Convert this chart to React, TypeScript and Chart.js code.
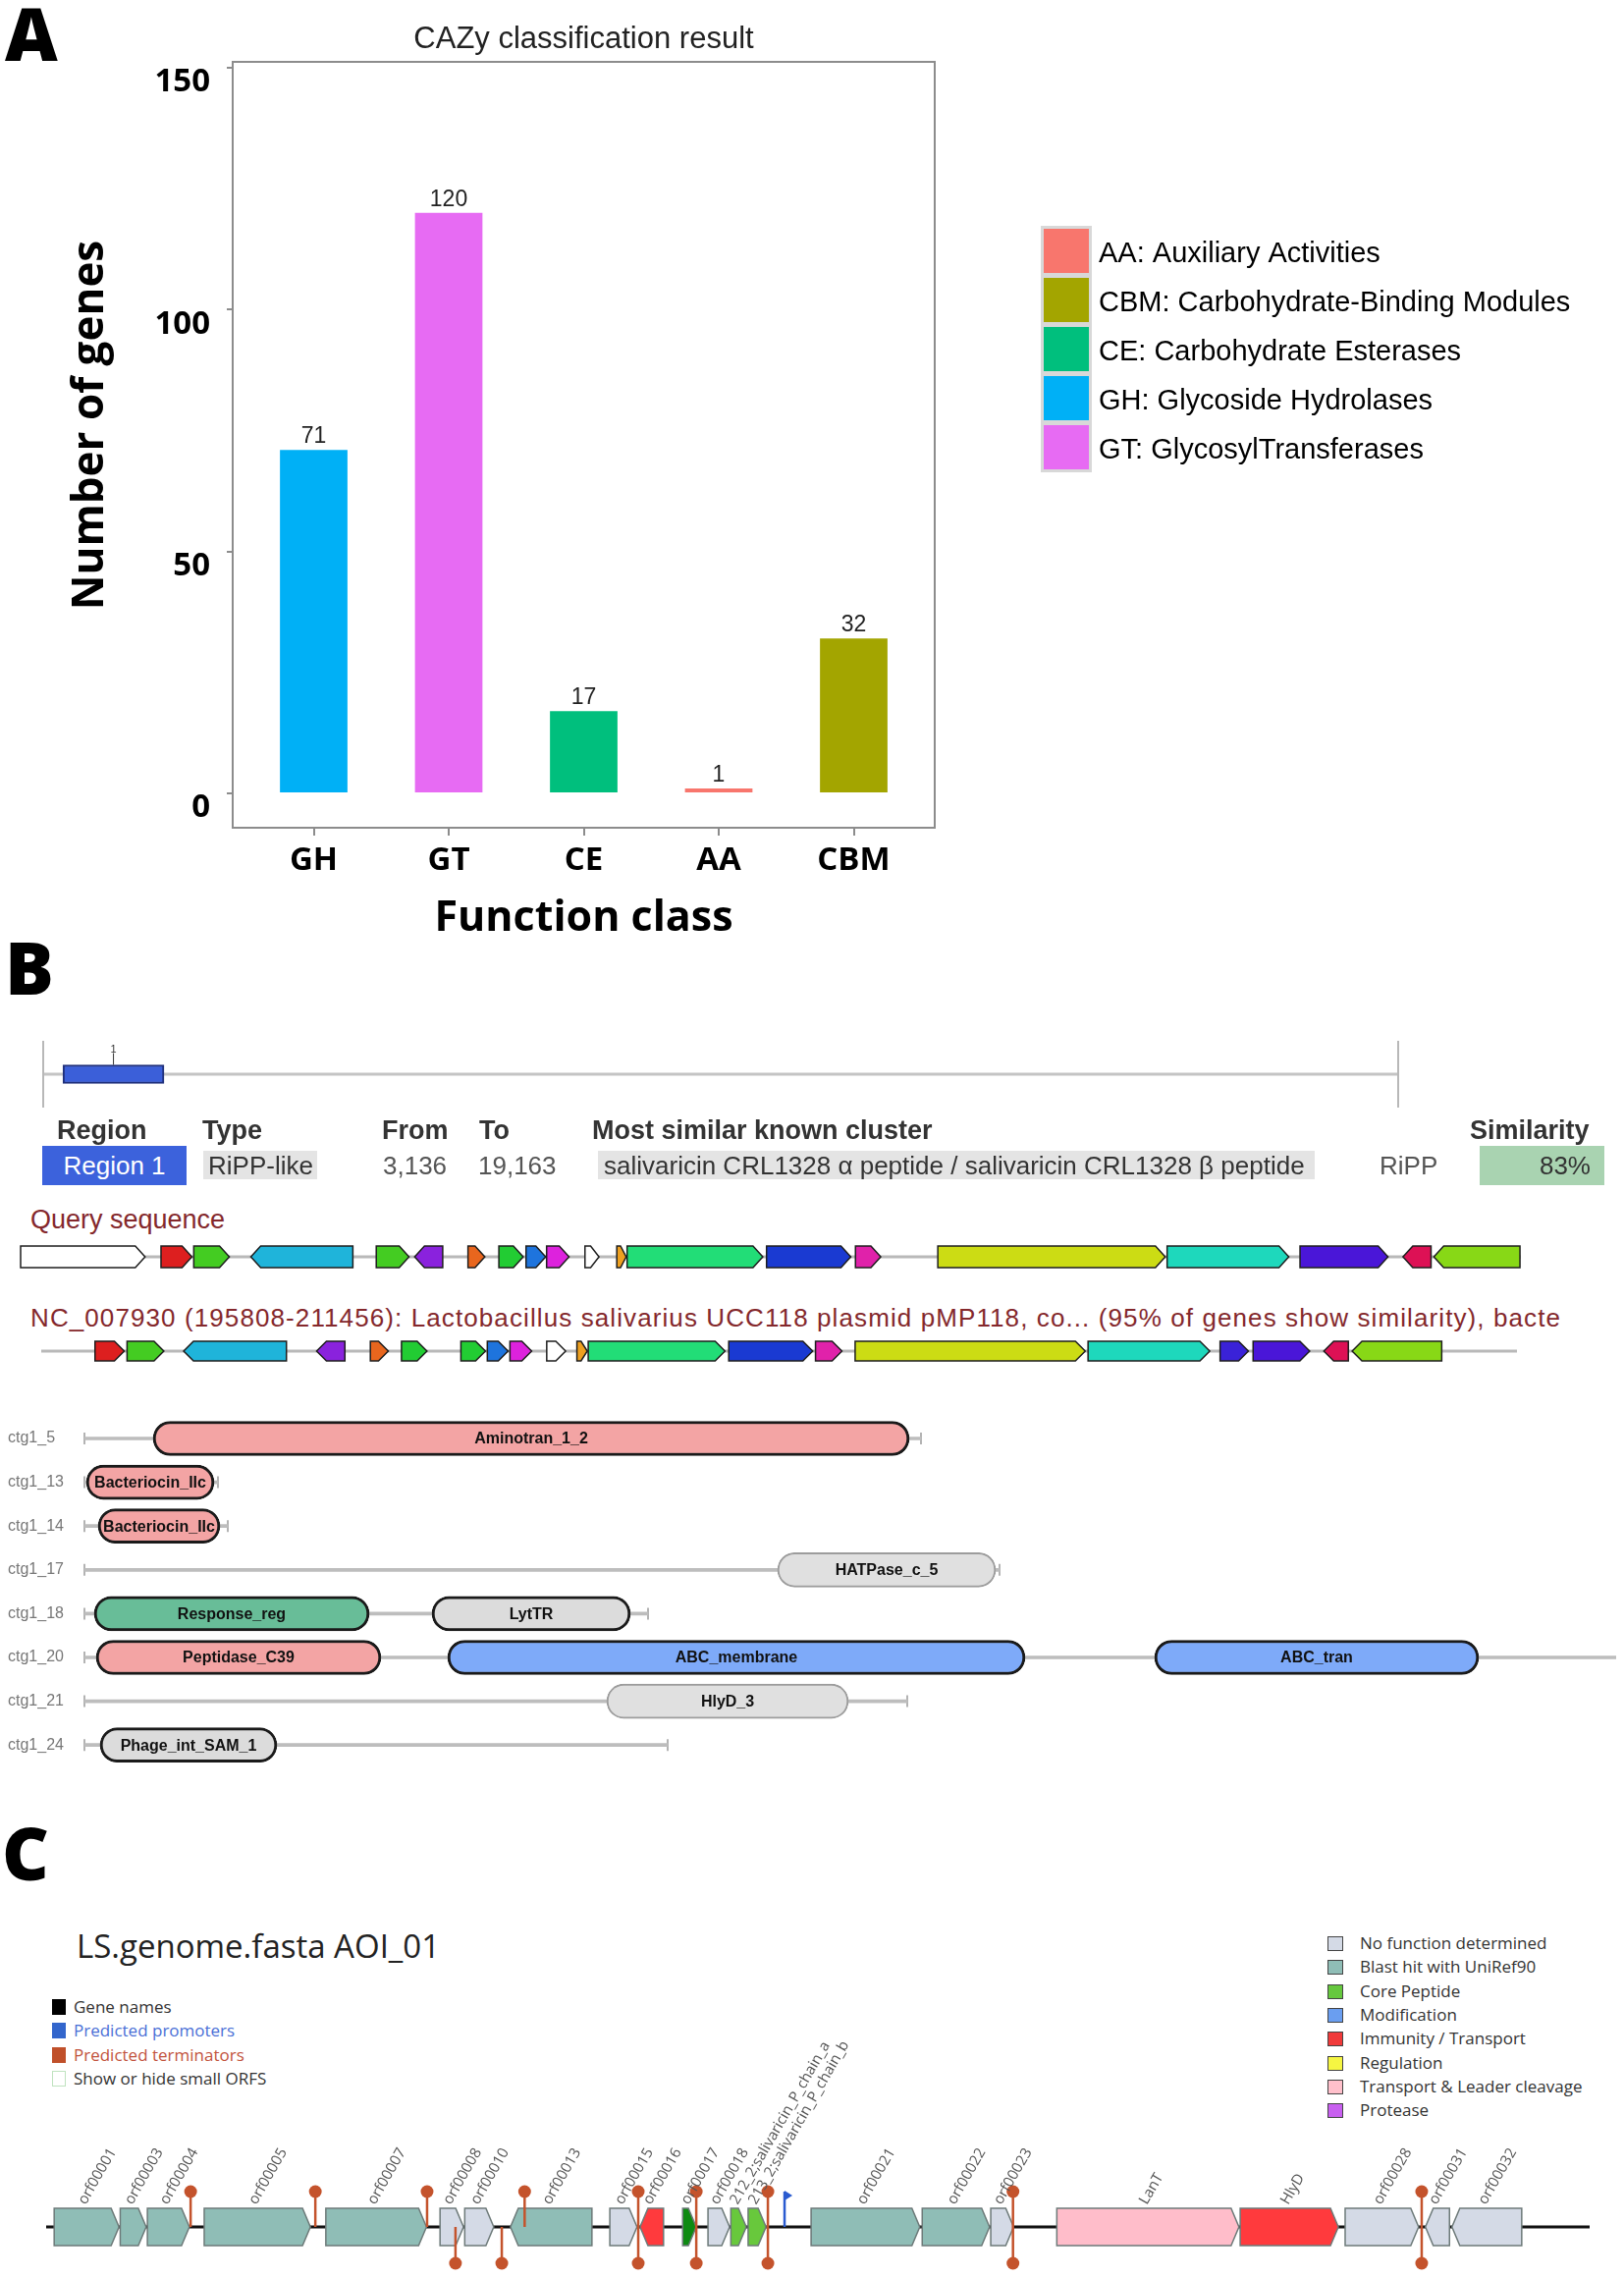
import React, { useEffect, useRef } from 'react';
import { Chart, registerables } from 'chart.js';

Chart.register(...registerables);

const LS = "'Liberation Sans', Arial, Helvetica, sans-serif";
const OS = "'Open Sans', 'Liberation Sans', sans-serif";

// ---------------- Panel A data ----------------
const A_TITLE = 'CAZy classification result';
const A_CATEGORIES = ['GH', 'GT', 'CE', 'AA', 'CBM'];
const A_COUNTS = [71, 120, 17, 1, 32];
const A_COLORS = ['#00B0F6', '#E76BF3', '#00BF7D', '#F8766D', '#A3A500'];
const A_Y_TICKS = [0, 50, 100, 150];
const A_LEGEND_COLORS = ['#F8766D', '#A3A500', '#00BF7D', '#00B0F6', '#E76BF3'];
const A_LEGEND_LABELS = [
  'AA: Auxiliary Activities',
  'CBM: Carbohydrate-Binding Modules',
  'CE: Carbohydrate Esterases',
  'GH: Glycoside Hydrolases',
  'GT: GlycosylTransferases',
];
const A_X_TITLE = 'Function class';
const A_Y_TITLE = 'Number of genes';

// ---------------- Panel B data ----------------
const CONTIG_LENGTH = 215000;
const REGION_FROM = 3136;
const REGION_TO = 19163;
const B_HEADERS = ['Region', 'Type', 'From', 'To', 'Most similar known cluster', 'Similarity'];
const B_ROW = ['Region 1', 'RiPP-like', '3,136', '19,163', 'salivaricin CRL1328 \u03b1 peptide / salivaricin CRL1328 \u03b2 peptide', 'RiPP', '83%'];
const QUERY_TITLE = 'Query sequence';
const REF_TITLE = 'NC_007930 (195808-211456): Lactobacillus salivarius UCC118 plasmid pMP118, co... (95% of genes show similarity), bacte';

type Gene = [number, number, number, string]; // start kb, end kb, strand, colour
const QUERY_LENGTH_KB = 16.03;
const QUERY_GENES: Gene[] = [
  [0.0, 1.33, 1, '#ffffff'],
  [1.5, 1.83, 1, '#dd1f1f'],
  [1.85, 2.23, 1, '#44cc22'],
  [2.46, 3.55, -1, '#1fb4da'],
  [3.8, 4.15, 1, '#44cc22'],
  [4.21, 4.51, -1, '#8a22dd'],
  [4.78, 4.96, 1, '#e8661e'],
  [5.11, 5.37, 1, '#22cc33'],
  [5.4, 5.61, 1, '#1e74dd'],
  [5.62, 5.86, 1, '#dd22dd'],
  [6.03, 6.18, 1, '#ffffff'],
  [6.37, 6.47, 1, '#eea020'],
  [6.48, 7.93, 1, '#22dd77'],
  [7.97, 8.87, 1, '#1a3ad2'],
  [8.92, 9.19, 1, '#e022aa'],
  [9.8, 12.23, 1, '#ccdc14'],
  [12.25, 13.55, 1, '#1ed8bc'],
  [13.67, 14.61, 1, '#4a16d8'],
  [14.77, 15.07, -1, '#dd1155'],
  [15.1, 16.02, -1, '#88d816'],
];
const REF_LENGTH_KB = 15.648;
const REF_GENES: Gene[] = [
  [0.57, 0.88, 1, '#dd1f1f'],
  [0.91, 1.3, 1, '#44cc22'],
  [1.51, 2.6, -1, '#1fb4da'],
  [2.92, 3.22, -1, '#8a22dd'],
  [3.49, 3.68, 1, '#e8661e'],
  [3.82, 4.09, 1, '#22cc33'],
  [4.45, 4.71, 1, '#22cc33'],
  [4.73, 4.95, 1, '#1e74dd'],
  [4.97, 5.2, 1, '#dd22dd'],
  [5.36, 5.56, 1, '#ffffff'],
  [5.68, 5.79, 1, '#eea020'],
  [5.8, 7.25, 1, '#22dd77'],
  [7.29, 8.18, 1, '#1a3ad2'],
  [8.21, 8.49, 1, '#e022aa'],
  [8.63, 11.07, 1, '#ccdc14'],
  [11.1, 12.39, 1, '#1ed8bc'],
  [12.5, 12.8, 1, '#3a22d8'],
  [12.85, 13.45, 1, '#4a16d8'],
  [13.6, 13.86, -1, '#dd1155'],
  [13.9, 14.85, -1, '#88d816'],
];

const PROTEINS = ['ctg1_5', 'ctg1_13', 'ctg1_14', 'ctg1_17', 'ctg1_18', 'ctg1_20', 'ctg1_21', 'ctg1_24'];
const PROTEIN_LENGTHS = [426, 68, 73, 466, 287, 790, 419, 297];
const PROTEIN_AXIS_MAX = 780;
type Domain = [string, number, number, string, string]; // protein, start aa, end aa, name, kind
const DOMAINS: Domain[] = [
  ['ctg1_5', 35, 420, 'Aminotran_1_2', 'pink'],
  ['ctg1_13', 1, 66, 'Bacteriocin_IIc', 'pink'],
  ['ctg1_14', 7, 69, 'Bacteriocin_IIc', 'pink'],
  ['ctg1_17', 353, 464, 'HATPase_c_5', 'light'],
  ['ctg1_18', 5, 145, 'Response_reg', 'green'],
  ['ctg1_18', 177, 278, 'LytTR', 'grey'],
  ['ctg1_20', 6, 151, 'Peptidase_C39', 'pink'],
  ['ctg1_20', 185, 479, 'ABC_membrane', 'blue'],
  ['ctg1_20', 545, 710, 'ABC_tran', 'blue'],
  ['ctg1_21', 266, 389, 'HlyD_3', 'light'],
  ['ctg1_24', 8, 98, 'Phage_int_SAM_1', 'grey'],
];
const DOMAIN_STYLE: Record<string, { fill: string; border: string; bw: number }> = {
  pink: { fill: '#f3a4a4', border: '#1a1a1a', bw: 3 },
  green: { fill: '#68bd98', border: '#1a1a1a', bw: 3 },
  blue: { fill: '#7eaaf9', border: '#1a1a1a', bw: 3 },
  grey: { fill: '#dcdcdc', border: '#1a1a1a', bw: 3 },
  light: { fill: '#e0e0e0', border: '#9c9c9c', bw: 2 },
};

// ---------------- Panel C data ----------------
const C_TITLE = 'LS.genome.fasta AOI_01';
const C_LENGTH_KB = 25.0;
type CGene = [string, number, number, number, string];
const C_GENES: CGene[] = [
  ['orf00001', 0.13, 1.18, 1, 'blast'],
  ['orf00003', 1.2, 1.62, 1, 'blast'],
  ['orf00004', 1.64, 2.32, 1, 'blast'],
  ['orf00005', 2.56, 4.28, 1, 'blast'],
  ['orf00007', 4.53, 6.16, 1, 'blast'],
  ['orf00008', 6.38, 6.76, 1, 'none'],
  ['orf00010', 6.78, 7.25, 1, 'none'],
  ['orf00013', 7.52, 8.84, -1, 'blast'],
  ['orf00015', 9.13, 9.57, 1, 'none'],
  ['orf00016', 9.62, 10.0, -1, 'immunity'],
  ['orf00017', 10.31, 10.53, 1, 'coreDark'],
  ['orf00018', 10.72, 11.07, 1, 'none'],
  ['212_2;salivaricin_P_chain_a', 11.09, 11.34, 1, 'core'],
  ['213_2;salivaricin_P_chain_b', 11.37, 11.66, 1, 'core'],
  ['orf00021', 12.39, 14.15, 1, 'blast'],
  ['orf00022', 14.19, 15.28, 1, 'blast'],
  ['orf00023', 15.3, 15.67, 1, 'none'],
  ['LanT', 16.37, 19.32, 1, 'transport'],
  ['HlyD', 19.34, 20.93, 1, 'immunity'],
  ['orf00028', 21.04, 22.23, 1, 'none'],
  ['orf00031', 22.34, 22.73, -1, 'none'],
  ['orf00032', 22.77, 23.9, -1, 'none'],
];
const C_TERMINATORS: [number, string][] = [
  [2.34, 'up'], [4.36, 'up'], [6.17, 'up'], [7.75, 'up'],
  [6.63, 'down'], [7.38, 'down'],
  [9.59, 'both'], [10.53, 'both'], [11.69, 'both'], [15.66, 'both'], [22.28, 'both'],
];
const C_PROMOTERS = [11.96];
const C_GENE_COLORS: Record<string, string> = {
  none: '#d4dae6',
  blast: '#8fbdb6',
  core: '#68c83c',
  coreDark: '#0e8a12',
  immunity: '#ff3a3d',
  transport: '#ffbdca',
};
const C_LEFT_LEGEND: [string, string, string, string][] = [
  ['Gene names', '#000000', '#000000', '#333333'],
  ['Predicted promoters', '#3366cc', '#3366cc', '#4a6fd6'],
  ['Predicted terminators', '#c0502a', '#c0502a', '#c2533d'],
  ['Show or hide small ORFS', '#ffffff', '#bfe3bf', '#333333'],
];
const C_RIGHT_LEGEND: [string, string][] = [
  ['No function determined', '#d4dae6'],
  ['Blast hit with UniRef90', '#8fbdb6'],
  ['Core Peptide', '#66c83e'],
  ['Modification', '#6a9ef0'],
  ['Immunity / Transport', '#f03a3a'],
  ['Regulation', '#f5f542'],
  ['Transport & Leader cleavage', '#ffc0cb'],
  ['Protease', '#c860f0'],
];

// ---------------- helpers ----------------
function drawArrow(ctx: CanvasRenderingContext2D, xa: number, xb: number, yc: number, h: number, head: number, strand: number) {
  const x1 = Math.min(xa, xb);
  const x2 = Math.max(xa, xb);
  const w = x2 - x1;
  const hd = Math.min(head, w * 0.6);
  ctx.beginPath();
  if (strand >= 0) {
    ctx.moveTo(x1, yc - h / 2);
    ctx.lineTo(x2 - hd, yc - h / 2);
    ctx.lineTo(x2, yc);
    ctx.lineTo(x2 - hd, yc + h / 2);
    ctx.lineTo(x1, yc + h / 2);
  } else {
    ctx.moveTo(x2, yc - h / 2);
    ctx.lineTo(x1 + hd, yc - h / 2);
    ctx.lineTo(x1, yc);
    ctx.lineTo(x1 + hd, yc + h / 2);
    ctx.lineTo(x2, yc + h / 2);
  }
  ctx.closePath();
  ctx.fill();
  ctx.stroke();
}

function trackPlugin(genes: Gene[], geneH: number) {
  return {
    id: 'geneTrack',
    afterDraw(chart: any) {
      const { ctx, chartArea: a } = chart;
      const xs = chart.scales.x;
      const yc = (a.top + a.bottom) / 2;
      ctx.save();
      ctx.strokeStyle = '#b9b9b9';
      ctx.lineWidth = 3;
      ctx.beginPath();
      ctx.moveTo(a.left, yc);
      ctx.lineTo(a.right, yc);
      ctx.stroke();
      ctx.lineWidth = 1.5;
      ctx.strokeStyle = '#1e1e1e';
      ctx.lineJoin = 'miter';
      genes.forEach(([s, e, strand, color]) => {
        ctx.fillStyle = color;
        drawArrow(ctx, xs.getPixelForValue(s), xs.getPixelForValue(e), yc, geneH, 10, strand);
      });
      ctx.restore();
    },
  };
}

function trackConfig(max: number, padL: number, padR: number, plugin: any): any {
  return {
    type: 'scatter',
    data: { datasets: [] },
    options: {
      responsive: false,
      animation: false,
      events: [],
      layout: { padding: { left: padL, right: padR, top: 0, bottom: 0 }, autoPadding: false },
      scales: {
        x: { type: 'linear', min: 0, max, display: false },
        y: { type: 'linear', min: 0, max: 1, display: false },
      },
      plugins: { legend: { display: false }, tooltip: { enabled: false } },
    },
    plugins: [plugin],
  };
}

// ---------------- text helpers (HTML) ----------------
function Txt(props: { x: number; cy: number; size: number; color?: string; weight?: any; family?: string; children: any; w?: number; align?: any; ls?: number }) {
  const L = Math.round(props.size * 1.4);
  return (
    <div
      style={{
        position: 'absolute',
        left: props.x,
        top: props.cy - L / 2,
        height: L,
        lineHeight: `${L}px`,
        fontSize: props.size,
        fontFamily: props.family || LS,
        fontWeight: props.weight || 'normal',
        color: props.color || '#333',
        whiteSpace: 'nowrap',
        width: props.w,
        textAlign: props.align || 'left',
        letterSpacing: props.ls ? `${props.ls}px` : undefined,
        overflow: props.w ? 'hidden' : 'visible',
      }}
    >
      {props.children}
    </div>
  );
}

function Box(props: { x1: number; x2: number; y1: number; y2: number; bg: string; border?: string }) {
  return (
    <div
      style={{
        position: 'absolute',
        left: props.x1,
        top: props.y1,
        width: props.x2 - props.x1,
        height: props.y2 - props.y1,
        background: props.bg,
        boxSizing: 'border-box',
        border: props.border || 'none',
      }}
    />
  );
}

function Letter(props: { ch: string; x: number; capTop: number }) {
  const F = 74;
  return (
    <div
      style={{
        position: 'absolute',
        left: props.x,
        top: props.capTop - 0.174 * F,
        fontFamily: OS,
        fontWeight: 800,
        fontSize: F,
        lineHeight: `${F}px`,
        color: '#000',
      }}
    >
      {props.ch}
    </div>
  );
}

export default function App() {
  const refA = useRef<HTMLCanvasElement>(null);
  const refOv = useRef<HTMLCanvasElement>(null);
  const refQ = useRef<HTMLCanvasElement>(null);
  const refR = useRef<HTMLCanvasElement>(null);
  const refD = useRef<HTMLCanvasElement>(null);
  const refC = useRef<HTMLCanvasElement>(null);

  useEffect(() => {
    const charts: Chart[] = [];

    // ---------- Panel A ----------
    const panelAPlugin = {
      id: 'panelA',
      afterDraw(chart: any) {
        const { ctx, chartArea: a } = chart;
        ctx.save();
        ctx.strokeStyle = '#8c8c8c';
        ctx.lineWidth = 2;
        ctx.strokeRect(a.left, a.top, a.right - a.left, a.bottom - a.top);
        ctx.fillStyle = '#222';
        ctx.textAlign = 'center';
        ctx.textBaseline = 'middle';
        ctx.font = `31px ${LS}`;
        ctx.fillText(A_TITLE, (a.left + a.right) / 2, 40);
        // values above bars
        ctx.font = `23px ${LS}`;
        ctx.textBaseline = 'alphabetic';
        const meta = chart.getDatasetMeta(0);
        meta.data.forEach((bar: any, i: number) => {
          ctx.fillText(String(A_COUNTS[i]), bar.x, bar.y - 7);
        });
        // axis titles
        ctx.fillStyle = '#000';
        ctx.font = `bold 43px ${OS}`;
        ctx.textBaseline = 'middle';
        ctx.fillText(A_X_TITLE, (a.left + a.right) / 2, 936);
        ctx.save();
        ctx.translate(92, 433);
        ctx.rotate(-Math.PI / 2);
        ctx.font = `bold 44px ${OS}`;
        ctx.fillText(A_Y_TITLE, 0, 0);
        ctx.restore();
        // legend
        ctx.fillStyle = '#d8d8d8';
        ctx.fillRect(1060, 230, 52, 251);
        A_LEGEND_COLORS.forEach((c, i) => {
          ctx.fillStyle = c;
          ctx.fillRect(1063, 233 + 50 * i, 46, 45);
          ctx.fillStyle = '#000';
          ctx.textAlign = 'left';
          ctx.font = `29px ${LS}`;
          ctx.fillText(A_LEGEND_LABELS[i], 1119, 259 + 50 * i);
        });
        ctx.restore();
      },
    };
    charts.push(
      new Chart(refA.current!, {
        type: 'bar',
        data: {
          datasets: [
            {
              data: A_CATEGORIES.map((_, i) => ({ x: i, y: A_COUNTS[i] })),
              backgroundColor: A_COLORS,
              barPercentage: 0.5,
              categoryPercentage: 1,
            },
          ],
        },
        options: {
          responsive: false,
          animation: false,
          events: [],
          layout: { padding: { left: 0, top: 63, right: 702, bottom: 0 }, autoPadding: false },
          scales: {
            x: {
              type: 'linear',
              min: -0.6,
              max: 4.6,
              offset: false,
              afterBuildTicks: (s: any) => {
                s.ticks = A_CATEGORIES.map((_, i) => ({ value: i }));
              },
              afterFit: (s: any) => {
                s.height = 117;
              },
              ticks: {
                callback: (v: any) => A_CATEGORIES[v],
                font: { family: OS, size: 33, weight: 'bold' },
                color: '#000',
                padding: 6,
                maxRotation: 0,
                autoSkip: false,
              },
              grid: { offset: false, drawOnChartArea: false, drawTicks: true, tickLength: 8, color: '#8c8c8c', lineWidth: 2 },
              border: { display: false },
            },
            y: {
              type: 'linear',
              min: -7.1,
              max: 151.2,
              afterBuildTicks: (s: any) => {
                s.ticks = A_Y_TICKS.map((v) => ({ value: v }));
              },
              afterFit: (s: any) => {
                s.width = 237;
              },
              ticks: {
                font: { family: OS, size: 33, weight: 'bold' },
                color: '#000',
                padding: 17,
                labelOffset: 15,
                autoSkip: false,
              },
              grid: { drawOnChartArea: false, drawTicks: true, tickLength: 6, color: '#8c8c8c', lineWidth: 2 },
              border: { display: false },
            },
          },
          plugins: { legend: { display: false }, tooltip: { enabled: false } },
        } as any,
        plugins: [panelAPlugin],
      })
    );

    // ---------- Panel B overview ----------
    const ovPlugin = {
      id: 'overview',
      beforeDatasetsDraw(chart: any) {
        const { ctx, chartArea: a } = chart;
        const yc = (a.top + a.bottom) / 2;
        ctx.save();
        ctx.strokeStyle = '#c4c4c4';
        ctx.lineWidth = 3;
        ctx.beginPath();
        ctx.moveTo(a.left, yc);
        ctx.lineTo(a.right, yc);
        ctx.stroke();
        ctx.strokeStyle = '#b8b8b8';
        ctx.lineWidth = 2;
        ctx.beginPath();
        ctx.moveTo(a.left, a.top);
        ctx.lineTo(a.left, a.bottom);
        ctx.moveTo(a.right, a.top);
        ctx.lineTo(a.right, a.bottom);
        ctx.stroke();
        ctx.restore();
      },
      afterDatasetsDraw(chart: any) {
        const { ctx } = chart;
        const el = chart.getDatasetMeta(0).data[0];
        const p = el.getProps(['x', 'base', 'y', 'height'], true);
        const cx = (p.x + p.base) / 2;
        const top = p.y - p.height / 2;
        ctx.save();
        ctx.strokeStyle = '#333';
        ctx.lineWidth = 1;
        ctx.beginPath();
        ctx.moveTo(cx, top);
        ctx.lineTo(cx, top - 12);
        ctx.stroke();
        ctx.fillStyle = '#333';
        ctx.font = `11px ${LS}`;
        ctx.textAlign = 'center';
        ctx.textBaseline = 'alphabetic';
        ctx.fillText('1', cx, top - 13);
        ctx.restore();
      },
    };
    charts.push(
      new Chart(refOv.current!, {
        type: 'bar',
        data: {
          labels: ['Region 1'],
          datasets: [
            {
              data: [[REGION_FROM, REGION_TO]] as any,
              backgroundColor: '#3b5fd9',
              borderColor: '#1f2f7a',
              borderWidth: 2,
              borderSkipped: false,
              barThickness: 19,
            },
          ],
        },
        options: {
          indexAxis: 'y',
          responsive: false,
          animation: false,
          events: [],
          layout: { padding: { left: 44, right: 230, top: 20, bottom: 12 }, autoPadding: false },
          scales: {
            x: { type: 'linear', min: 0, max: CONTIG_LENGTH, display: false },
            y: { display: false },
          },
          plugins: { legend: { display: false }, tooltip: { enabled: false } },
        } as any,
        plugins: [ovPlugin],
      })
    );

    // ---------- Panel B gene tracks ----------
    charts.push(new Chart(refQ.current!, trackConfig(QUERY_LENGTH_KB, 21, 105, trackPlugin(QUERY_GENES, 22))));
    charts.push(new Chart(refR.current!, trackConfig(REF_LENGTH_KB, 42, 109, trackPlugin(REF_GENES, 20))));

    // ---------- Panel B domains ----------
    const slots: Domain[][] = [[], [], []];
    PROTEINS.forEach((p) => {
      const ds = DOMAINS.filter((d) => d[0] === p);
      for (let k = 0; k < 3; k++) slots[k].push(ds[k] as any);
    });
    const domainDatasets = slots.map((slot) => ({
      data: slot.map((d) => (d ? [d[1], d[2]] : null)),
      backgroundColor: slot.map((d) => (d ? DOMAIN_STYLE[d[4]].fill : 'rgba(0,0,0,0)')),
      borderColor: slot.map((d) => (d ? DOMAIN_STYLE[d[4]].border : 'rgba(0,0,0,0)')),
      borderWidth: slot.map((d) => (d ? DOMAIN_STYLE[d[4]].bw : 0)),
      borderRadius: 20,
      borderSkipped: false,
      barThickness: 35,
      grouped: false,
      order: 0,
    }));
    const domainPlugin = {
      id: 'domains',
      beforeDatasetsDraw(chart: any) {
        const { ctx } = chart;
        const xs = chart.scales.x;
        const ys = chart.scales.y;
        ctx.save();
        ctx.strokeStyle = '#9a9a9a';
        ctx.lineWidth = 1.5;
        PROTEIN_LENGTHS.forEach((len, i) => {
          const y = ys.getPixelForValue(i);
          const ends = [0, len].filter((v) => v <= PROTEIN_AXIS_MAX);
          ends.forEach((v) => {
            const x = xs.getPixelForValue(v);
            ctx.beginPath();
            ctx.moveTo(x, y - 6);
            ctx.lineTo(x, y + 6);
            ctx.stroke();
          });
        });
        ctx.restore();
      },
      afterDatasetsDraw(chart: any) {
        const { ctx } = chart;
        ctx.save();
        ctx.fillStyle = '#111';
        ctx.font = `bold 16px ${LS}`;
        ctx.textAlign = 'center';
        ctx.textBaseline = 'middle';
        slots.forEach((slot, k) => {
          const meta = chart.getDatasetMeta(k + 1);
          slot.forEach((d, i) => {
            if (!d) return;
            const p = meta.data[i].getProps(['x', 'base', 'y'], true);
            ctx.fillText(d[3], (p.x + p.base) / 2, p.y + 1);
          });
        });
        ctx.restore();
      },
    };
    charts.push(
      new Chart(refD.current!, {
        type: 'bar',
        data: {
          labels: PROTEINS,
          datasets: [
            {
              data: PROTEIN_LENGTHS.map((l) => [0, l]) as any,
              backgroundColor: '#bdbdbd',
              barThickness: 3,
              grouped: false,
              order: 10,
            },
            ...(domainDatasets as any[]),
          ],
        },
        options: {
          indexAxis: 'y',
          responsive: false,
          animation: false,
          events: [],
          layout: { padding: { left: 8, right: 8, top: 22.7, bottom: 20.5 }, autoPadding: false },
          scales: {
            x: { type: 'linear', min: 0, max: PROTEIN_AXIS_MAX, display: false },
            y: {
              type: 'category',
              afterFit: (s: any) => {
                s.width = 78;
              },
              ticks: { color: '#777', font: { family: LS, size: 16 }, crossAlign: 'far', padding: 0 },
              grid: { display: false },
              border: { display: false },
            },
          },
          plugins: { legend: { display: false }, tooltip: { enabled: false } },
        } as any,
        plugins: [domainPlugin],
      })
    );

    // ---------- Panel C ----------
    const cPlugin = {
      id: 'panelC',
      afterDraw(chart: any) {
        const { ctx, chartArea: a } = chart;
        const xs = chart.scales.x;
        const yc = a.top + 218;
        const geneH = 38;
        ctx.save();
        ctx.strokeStyle = '#111';
        ctx.lineWidth = 3;
        ctx.beginPath();
        ctx.moveTo(a.left, yc);
        ctx.lineTo(a.right, yc);
        ctx.stroke();
        ctx.lineWidth = 1.5;
        ctx.strokeStyle = '#6d7a79';
        C_GENES.forEach(([, s, e, strand, kind]) => {
          ctx.fillStyle = C_GENE_COLORS[kind];
          drawArrow(ctx, xs.getPixelForValue(s), xs.getPixelForValue(e), yc, geneH, 8, strand);
        });
        // promoters
        ctx.strokeStyle = '#2a5bd0';
        ctx.fillStyle = '#2a5bd0';
        ctx.lineWidth = 2.5;
        C_PROMOTERS.forEach((p) => {
          const x = xs.getPixelForValue(p);
          ctx.beginPath();
          ctx.moveTo(x, yc);
          ctx.lineTo(x, yc - 36);
          ctx.stroke();
          ctx.beginPath();
          ctx.moveTo(x, yc - 37);
          ctx.lineTo(x + 8, yc - 32);
          ctx.lineTo(x, yc - 27);
          ctx.closePath();
          ctx.fill();
        });
        // terminators
        ctx.strokeStyle = '#c4532c';
        ctx.fillStyle = '#c4532c';
        ctx.lineWidth = 2.5;
        C_TERMINATORS.forEach(([p, dir]) => {
          const x = xs.getPixelForValue(p);
          const up = dir === 'up' || dir === 'both';
          const down = dir === 'down' || dir === 'both';
          const y1 = up ? yc - 36 : yc;
          const y2 = down ? yc + 37 : yc;
          ctx.beginPath();
          ctx.moveTo(x, y1);
          ctx.lineTo(x, y2);
          ctx.stroke();
          if (up) {
            ctx.beginPath();
            ctx.arc(x, yc - 36, 6.5, 0, Math.PI * 2);
            ctx.fill();
          }
          if (down) {
            ctx.beginPath();
            ctx.arc(x, yc + 37, 6.5, 0, Math.PI * 2);
            ctx.fill();
          }
        });
        // labels
        ctx.fillStyle = '#555';
        ctx.font = `15px ${OS}`;
        ctx.textAlign = 'left';
        ctx.textBaseline = 'alphabetic';
        C_GENES.forEach(([name, s, e]) => {
          const cx = (xs.getPixelForValue(s) + xs.getPixelForValue(e)) / 2;
          ctx.save();
          ctx.translate(cx - 1, yc - 22);
          ctx.rotate(-Math.PI / 3);
          ctx.fillText(name, 0, 0);
          ctx.restore();
        });
        ctx.restore();
      },
    };
    charts.push(new Chart(refC.current!, trackConfig(C_LENGTH_KB, 47, 35, cPlugin)));

    return () => {
      charts.forEach((c) => c.destroy());
    };
  }, []);

  const canvasStyle = (top: number, h: number): React.CSSProperties => ({
    position: 'absolute',
    left: 0,
    top,
    width: 1654,
    height: h,
  });

  const headerX = [58, 206, 389, 488, 603, 1497];

  return (
    <div style={{ position: 'absolute', left: 0, top: 0, width: 1654, height: 2320, background: '#fff', overflow: 'hidden' }}>
      <canvas ref={refA} width={1654} height={960} style={canvasStyle(0, 960)} />
      <Letter ch="A" x={5} capTop={10} />

      {/* Panel B */}
      <Letter ch="B" x={5} capTop={961} />
      <canvas ref={refOv} width={1654} height={100} style={canvasStyle(1040, 100)} />
      {B_HEADERS.map((h, i) => (
        <Txt key={h} x={headerX[i]} cy={1151} size={27} weight="bold" color="#333">
          {h}
        </Txt>
      ))}
      <Box x1={43} x2={190} y1={1167} y2={1207} bg="#3c62dc" />
      <Txt x={43} w={147} align="center" cy={1187} size={26} color="#ffffff">
        {B_ROW[0]}
      </Txt>
      <Box x1={207} x2={323} y1={1172} y2={1201} bg="#e4e4e4" />
      <Txt x={212} cy={1187} size={26} color="#333">
        {B_ROW[1]}
      </Txt>
      <Txt x={390} cy={1187} size={26} color="#555">
        {B_ROW[2]}
      </Txt>
      <Txt x={487} cy={1187} size={26} color="#555">
        {B_ROW[3]}
      </Txt>
      <Box x1={609} x2={1339} y1={1172} y2={1201} bg="#e4e4e4" />
      <Txt x={615} cy={1187} size={26} color="#333">
        {B_ROW[4]}
      </Txt>
      <Txt x={1405} cy={1187} size={26} color="#555">
        {B_ROW[5]}
      </Txt>
      <Box x1={1507} x2={1634} y1={1167} y2={1207} bg="#a9d3b1" />
      <Txt x={1507} w={113} align="right" cy={1187} size={26} color="#333">
        {B_ROW[6]}
      </Txt>
      <Txt x={31} cy={1242} size={27} color="#84282c">
        {QUERY_TITLE}
      </Txt>
      <canvas ref={refQ} width={1654} height={36} style={canvasStyle(1262, 36)} />
      <Txt x={31} w={1570} cy={1342} size={26} color="#84282c" ls={1.1}>
        {REF_TITLE}
      </Txt>
      <canvas ref={refR} width={1654} height={36} style={canvasStyle(1358, 36)} />
      <canvas ref={refD} width={1654} height={400} style={canvasStyle(1420, 400)} />

      {/* Panel C */}
      <Letter ch="C" x={2} capTop={1863} />
      <Txt x={78} cy={1982} size={33} family={OS} color="#222">
        {C_TITLE}
      </Txt>
      {C_LEFT_LEGEND.map(([label, fill, border, color], i) => (
        <React.Fragment key={label}>
          <div
            style={{
              position: 'absolute',
              left: 53,
              top: 2036 + 24.3 * i,
              width: 14,
              height: 16,
              background: fill,
              boxSizing: 'border-box',
              border: `1.5px solid ${border}`,
            }}
          />
          <Txt x={75} cy={2044 + 24.3 * i} size={17} family={OS} color={color}>
            {label}
          </Txt>
        </React.Fragment>
      ))}
      {C_RIGHT_LEGEND.map(([label, fill], i) => (
        <React.Fragment key={label}>
          <div
            style={{
              position: 'absolute',
              left: 1352,
              top: 1972 + 24.3 * i,
              width: 16,
              height: 15,
              background: fill,
              boxSizing: 'border-box',
              border: '1.5px solid #444',
            }}
          />
          <Txt x={1385} cy={1979 + 24.3 * i} size={17} family={OS} color="#333">
            {label}
          </Txt>
        </React.Fragment>
      ))}
      <canvas ref={refC} width={1654} height={270} style={canvasStyle(2050, 270)} />
    </div>
  );
}
